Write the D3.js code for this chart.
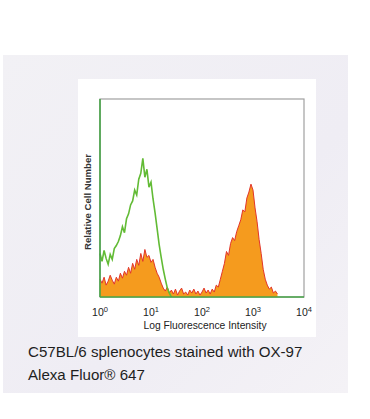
<!DOCTYPE html>
<html>
<head>
<meta charset="utf-8">
<script src="https://cdn.jsdelivr.net/npm/d3@7"></script>
<style>
  body { margin: 0; background: #fff; }
  svg { display: block; font-family: "Liberation Sans", Arial, sans-serif; }
</style>
</head>
<body>
<div id="chart"></div>
<script>
// log10 channel step of each histogram bin (bins start at 10^0)
const binStep = 0.04;

// unstained / isotype control (green outline)
const greenCounts = [
  44, 36, 47, 39, 33, 43, 38, 49, 52, 56, 62, 71, 65, 79, 84, 93, 97, 108, 103, 119,
  125, 140, 121, 129, 111, 116, 99, 85, 69, 53, 40, 28, 18, 9, 4, 0
];

// OX-97 Alexa Fluor 647 stained (orange filled)
const orangeCounts = [
  18, 14, 20, 12, 16, 22, 17, 13, 20, 16, 24, 19, 26, 22, 30, 24, 34, 28, 38, 32,
  44, 36, 48, 40, 42, 35, 38, 30, 24, 20, 14, 9, 6, 10, 4, 7, 3, 8, 2, 6,
  9, 3, 5, 2, 7, 4, 8, 3, 6, 2, 5, 9, 4, 7, 3, 8, 5, 12, 10, 18,
  26, 34, 46, 42, 54, 60, 57, 66, 72, 78, 88, 86, 100, 106, 114, 108, 90, 76, 58, 44,
  28, 18, 12, 8, 10, 4, 6, 3
];

const xTicks = [0, 1, 2, 3, 4];
const xTitle = "Log Fluorescence Intensity";
const yTitle = "Relative Cell Number";
const captionLines = ["C57BL/6 splenocytes stained with OX-97", "Alexa Fluor® 647"];

const W = 370, H = 419;
const plot = { left: 100, right: 304, top: 99, bottom: 297 };

const svg = d3.select("#chart").append("svg")
    .attr("width", W)
    .attr("height", H);

// lavender panel and white card
const defs = svg.append("defs");
const bg = defs.append("linearGradient")
    .attr("id", "panelGrad")
    .attr("x1", "0%").attr("y1", "0%")
    .attr("x2", "100%").attr("y2", "100%");
bg.append("stop").attr("offset", "0%").attr("stop-color", "#f2f1f5");
bg.append("stop").attr("offset", "60%").attr("stop-color", "#efedf4");
bg.append("stop").attr("offset", "100%").attr("stop-color", "#f4f2f6");

svg.append("rect")
    .attr("x", 3).attr("y", 55)
    .attr("width", 345).attr("height", 338)
    .attr("fill", "url(#panelGrad)");

svg.append("rect")
    .attr("x", 78).attr("y", 79)
    .attr("width", 238).attr("height", 258)
    .attr("fill", "#fff");

// scales
const x = d3.scaleLog()
    .domain([1, 1e4])
    .range([plot.left, plot.right]);

const y = d3.scaleLinear()
    .domain([0, 200])
    .range([plot.bottom, plot.top]);

const toPoints = counts => counts.map((c, i) => [Math.pow(10, i * binStep), c]);

const area = d3.area()
    .x(d => x(d[0]))
    .y0(y(0))
    .y1(d => y(d[1]));

const line = d3.line()
    .x(d => x(d[0]))
    .y(d => y(d[1]));

// frame (top/right gray)
svg.append("rect")
    .attr("x", plot.left).attr("y", plot.top)
    .attr("width", plot.right - plot.left)
    .attr("height", plot.bottom - plot.top)
    .attr("fill", "none")
    .attr("stroke", "#a0a0a0")
    .attr("stroke-width", 1.2);

// stained histogram
const orangePts = toPoints(orangeCounts);
svg.append("path")
    .datum(orangePts)
    .attr("d", area)
    .attr("fill", "#f59b1e");
svg.append("path")
    .datum(orangePts)
    .attr("d", line)
    .attr("fill", "none")
    .attr("stroke", "#e2352a")
    .attr("stroke-width", 1);

// control histogram
svg.append("path")
    .datum(toPoints(greenCounts))
    .attr("d", line)
    .attr("fill", "none")
    .attr("stroke", "#62bb35")
    .attr("stroke-width", 1.6);

// green left + bottom axes lines
svg.append("line")
    .attr("x1", plot.left).attr("x2", plot.left)
    .attr("y1", plot.top).attr("y2", plot.bottom)
    .attr("stroke", "#47a447")
    .attr("stroke-width", 1.6);
svg.append("line")
    .attr("x1", plot.left).attr("x2", plot.right)
    .attr("y1", plot.bottom).attr("y2", plot.bottom)
    .attr("stroke", "#47a447")
    .attr("stroke-width", 1.6);

// x tick labels 10^n
const tickG = svg.append("g");
xTicks.forEach(p => {
    const t = tickG.append("text")
        .attr("x", x(Math.pow(10, p)))
        .attr("y", 316)
        .attr("text-anchor", "middle")
        .attr("fill", "#222")
        .style("font-size", "10.5px");
    t.append("tspan").text("10");
    t.append("tspan")
        .attr("dy", -4.5)
        .style("font-size", "7.5px")
        .text(p);
});

svg.append("text")
    .attr("x", 205)
    .attr("y", 329)
    .attr("text-anchor", "middle")
    .attr("fill", "#222")
    .style("font-size", "10.3px")
    .text(xTitle);

svg.append("text")
    .attr("transform", "translate(91, 202) rotate(-90)")
    .attr("text-anchor", "middle")
    .attr("fill", "#333")
    .style("font-size", "9.6px")
    .style("font-weight", "bold")
    .text(yTitle);

// caption
captionLines.forEach((s, i) => {
    svg.append("text")
        .attr("x", 28)
        .attr("y", 357 + i * 23)
        .attr("fill", "#1e1e1e")
        .style("font-size", "15.1px")
        .text(s);
});
</script>
</body>
</html>
